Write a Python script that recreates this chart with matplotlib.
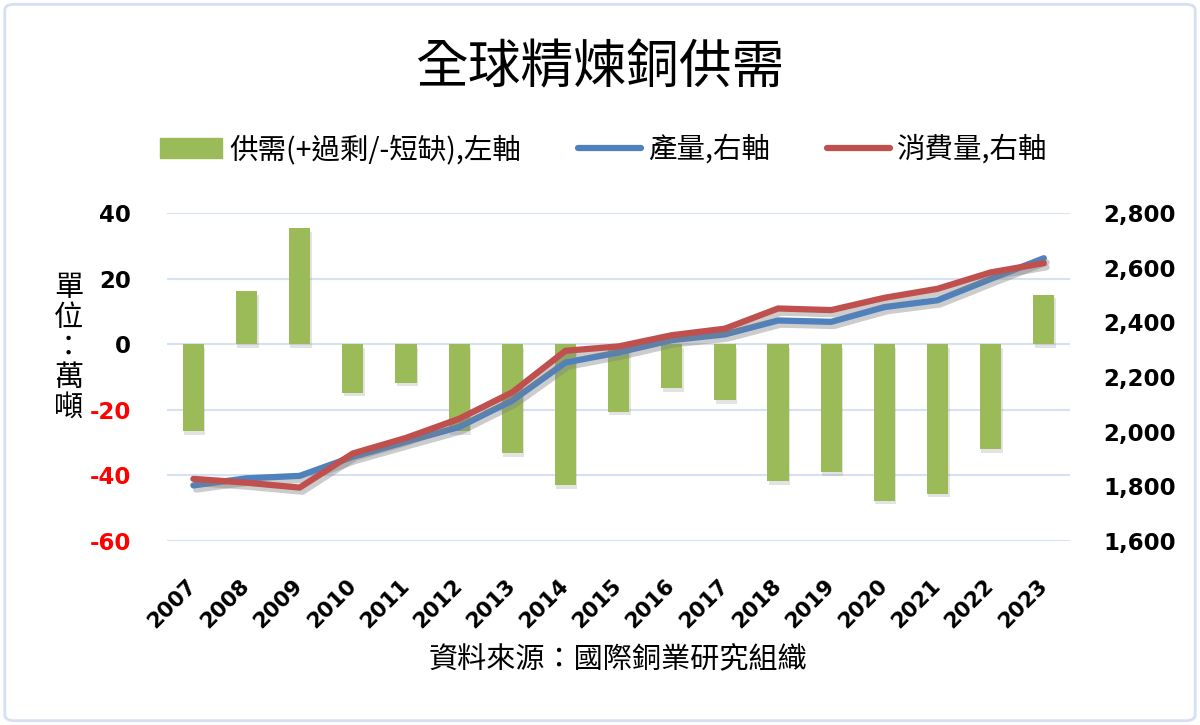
import matplotlib
matplotlib.use("Agg")
import matplotlib.pyplot as plt
import matplotlib.patheffects as pe
from matplotlib.patches import Patch, FancyBboxPatch
from matplotlib.lines import Line2D
from matplotlib.ticker import FuncFormatter
import numpy as np

plt.rcParams['font.family'] = ['Noto Sans CJK TC', 'DejaVu Sans']
plt.rcParams['axes.unicode_minus'] = False

years = ["2007", "2008", "2009", "2010", "2011", "2012", "2013", "2014", "2015",
         "2016", "2017", "2018", "2019", "2020", "2021", "2022", "2023"]
balance = [-26.5, 16.2, 35.4, -14.8, -11.7, -26.5, -33.3, -43.1, -20.6,
           -13.4, -17.1, -41.8, -39.0, -47.7, -45.6, -32.0, 15.1]
production = [1803, 1829, 1838, 1908, 1963, 2017, 2114, 2253, 2290,
              2335, 2356, 2407, 2402, 2456, 2481, 2559, 2635]
consumption = [1827, 1813, 1795, 1920, 1977, 2047, 2144, 2296, 2312,
               2353, 2377, 2451, 2445, 2490, 2523, 2583, 2617]
left_ticks = [-60, -40, -20, 0, 20, 40]
right_ticks = [1600, 1800, 2000, 2200, 2400, 2600, 2800]

title = "全球精煉銅供需"
legend_labels = ["供需(+過剩/-短缺),左軸", "產量,右軸", "消費量,右軸"]
ylabel = "單位：萬噸"
source = "資料來源：國際銅業研究組織"

GREEN = "#9BBB59"
BLUE = "#4F81BD"
RED = "#C0504D"
GRID = "#D6E2F3"

fig = plt.figure(figsize=(12, 7.25), dpi=100)
fig.patch.set_facecolor("white")

# border
fig.add_artist(FancyBboxPatch((0.004, 0.006), 0.992, 0.988,
                              boxstyle="round,pad=0,rounding_size=0.008",
                              transform=fig.transFigure, facecolor="none",
                              edgecolor="#D5E1F2", linewidth=2))

ax = fig.add_axes([0.139, 0.254, 0.753, 0.452])
ax2 = ax.twinx()

x = np.arange(len(years))
bars = ax.bar(x, balance, width=0.4, color=GREEN, zorder=3)
for b in bars:
    b.set_path_effects([pe.SimplePatchShadow(offset=(1, -2.5), shadow_rgbFace="gray", alpha=0.22),
                        pe.Normal()])

ax.set_ylim(-60, 40)
ax.set_xlim(-0.5, len(years) - 0.5)
ax.set_yticks(left_ticks)
ax.yaxis.grid(True, color=GRID, linewidth=1.5, zorder=0)
ax.set_axisbelow(True)

shadow = [pe.SimpleLineShadow(offset=(2, -3), shadow_color="gray", alpha=0.4),
          pe.Normal()]
ax2.plot(x, production, color=BLUE, linewidth=4.5, solid_capstyle="round",
         path_effects=shadow, zorder=4)
ax2.plot(x, consumption, color=RED, linewidth=4.5, solid_capstyle="round",
         path_effects=shadow, zorder=5)
ax2.set_ylim(1600, 2800)
ax2.set_yticks(right_ticks)
ax2.yaxis.set_major_formatter(FuncFormatter(lambda v, p: f"{v:,.0f}"))

for a in (ax, ax2):
    for s in a.spines.values():
        s.set_visible(False)
    a.tick_params(length=0)

ax.tick_params(axis="y", pad=26)
ax2.tick_params(axis="y", pad=24)
ax.set_xticks(x)
ax.set_xticklabels(years, rotation=45, ha="right", rotation_mode="anchor",
                   va="center")
ax.tick_params(axis="x", pad=30)

for v, lbl in zip(left_ticks, ax.get_yticklabels()):
    lbl.set_family("DejaVu Sans")
    lbl.set_fontweight("bold")
    lbl.set_fontsize(16.5)
    lbl.set_color("#FF0000" if v < 0 else "black")
for lbl in ax2.get_yticklabels():
    lbl.set_family("DejaVu Sans")
    lbl.set_fontweight("bold")
    lbl.set_fontsize(16.5)
for lbl in ax.get_xticklabels():
    lbl.set_family("DejaVu Sans")
    lbl.set_fontweight("bold")
    lbl.set_fontsize(15.5)

fig.text(0.5, 0.906, title, ha="center", va="center", fontsize=38)

handles = [Patch(facecolor=GREEN, edgecolor=GREEN),
           Line2D([], [], color=BLUE, linewidth=4.5, solid_capstyle="round"),
           Line2D([], [], color=RED, linewidth=4.5, solid_capstyle="round")]
fig.legend(handles, legend_labels, loc="center", bbox_to_anchor=(0.503, 0.793),
           ncol=3, frameon=False, fontsize=20.5, handlelength=2.2,
           handletextpad=0.25, columnspacing=2.0)

fig.text(0.057, 0.52, "\n".join(ylabel), ha="center", va="center",
         fontsize=21, linespacing=1.0)
fig.text(0.515, 0.089, source, ha="center", va="center", fontsize=21)

fig.savefig("out.png", dpi=100)
